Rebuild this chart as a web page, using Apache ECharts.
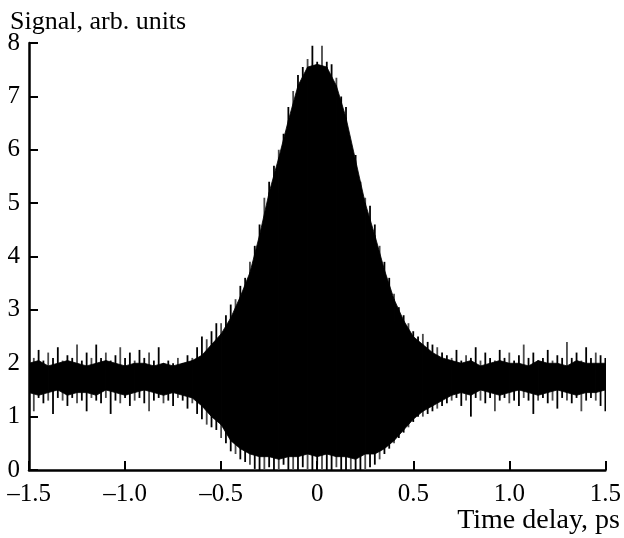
<!DOCTYPE html>
<html><head><meta charset="utf-8">
<script src="https://cdn.jsdelivr.net/npm/echarts@6/dist/echarts.min.js"></script>
<style>html,body{margin:0;padding:0;background:#fff}#c{width:624px;height:538px}</style>
</head><body><div id="c"></div>
<script>
// fine sampling grid of the time delay (ps) for the signal extremes
const delayStart = -1.5;
const delayStep = 0.025;
// maximum of the signal at each fine sample
const upper = [
  2.15,2.1,2.25,2.05,2.2,2.1,2.3,2.05,2.15,2.1,
  2.35,2.05,2.2,2.1,2.35,2.1,2.2,2.05,2.15,2.3,
  2.1,2.2,2.05,2.25,2.1,2.2,2.05,2.3,2.0,2.05,
  2.0,2.1,2.0,2.15,2.1,
  2.3,2.5,2.45,2.6,2.75,2.75,2.9,3.1,3.2,3.45,
  3.6,3.9,4.2,4.6,5.1,5.4,5.7,6.0,6.3,6.8,
  7.1,7.4,7.55,7.7,7.95,7.65,7.95,7.65,7.6,7.35,
  7.0,6.8,6.1,5.9,5.4,5.1,4.95,4.6,4.2,3.9,
  3.6,3.3,3.05,2.9,2.75,2.6,2.5,2.55,2.4,2.35,
  2.3,2.2,2.15,
  2.1,2.25,2.05,2.15,2.1,2.3,2.05,2.2,2.1,2.05,
  2.25,2.1,2.2,2.05,2.15,2.35,2.1,2.2,2.05,2.1,
  2.25,2.05,2.15,2.1,2.4,2.1,2.2,2.05,2.3,2.1,
  2.2,2.15,2.1
];
// minimum of the signal at each fine sample
const lower = [
  1.3,1.1,1.35,1.25,1.3,1.05,1.35,1.3,1.2,1.35,
  1.25,1.3,1.1,1.35,1.3,1.25,1.35,1.05,1.3,1.25,
  1.35,1.2,1.3,1.35,1.25,1.1,1.3,1.35,1.25,1.3,
  1.2,1.35,1.3,1.15,1.25,
  1.05,0.95,0.85,0.8,0.75,0.6,0.5,0.35,0.3,0.2,
  0.15,0.1,0.02,
  0,0,0.05,0,0,0.1,0,0,0,0.05,
  0,0,0.1,0,0,0,0.05,0,0,0,
  0,0,0,
  0.05,0.1,0.2,0.3,0.4,0.5,0.6,0.7,0.8,0.9,
  1.0,1.0,1.05,1.1,1.15,1.2,1.25,
  1.3,1.35,1.2,1.3,1.0,1.35,1.3,1.25,1.35,1.1,
  1.3,1.35,1.25,1.3,1.2,1.35,1.3,1.05,1.3,1.35,
  1.25,1.3,1.15,1.35,1.3,1.25,1.35,1.1,1.3,1.35,
  1.3,1.2,1.1
];
// coarse grid for the dense (solid) part of the trace
const coreStep = 0.05;
const coreUpper = [
  2.0,2.05,1.95,2.0,2.05,2.0,1.95,2.0,2.05,2.0,1.95,2.0,2.0,1.95,2.0,1.95,2.0,
  2.05,2.15,2.35,2.55,2.85,3.25,3.7,4.4,5.2,5.85,6.55,7.2,7.55,7.6,
  7.55,7.2,6.6,5.8,5.0,4.4,3.75,3.2,2.8,2.5,2.35,2.2,2.1,2.05,
  2.0,2.05,1.95,2.0,2.05,2.0,2.0,1.95,2.05,2.0,2.0,1.95,2.05,2.0,2.0,2.0
];
const coreLower = [
  1.45,1.4,1.45,1.5,1.4,1.45,1.45,1.4,1.5,1.45,1.4,1.45,1.5,1.45,1.4,1.45,1.4,
  1.35,1.2,1.0,0.85,0.55,0.4,0.3,0.25,0.25,0.2,0.25,0.25,0.3,0.25,
  0.3,0.25,0.25,0.2,0.3,0.3,0.4,0.55,0.75,0.95,1.1,1.2,1.3,1.4,
  1.45,1.4,1.5,1.45,1.4,1.45,1.5,1.45,1.4,1.45,1.5,1.45,1.4,1.45,1.45,1.5
];
const xTicks = [-1.5,-1.0,-0.5,0,0.5,1.0,1.5];
const xTickLabels = ['\u20131.5','\u20131.0','\u20130.5','0','0.5','1.0','1.5'];
const yTickLabels = ['0','1','2','3','4','5','6','7','8'];
const xTitle = 'Time delay, ps';
const yTitle = 'Signal, arb. units';

const spikeData = upper.map((u, i) => [delayStart + delayStep * i, lower[i], u]);
// one quadrilateral between consecutive coarse samples
const coreData = [];
for (let i = 0; i < coreUpper.length - 1; i++) {
  coreData.push([delayStart + coreStep * i, coreLower[i], coreUpper[i],
                 delayStart + coreStep * (i + 1), coreLower[i + 1], coreUpper[i + 1]]);
}
const FONT = 'Liberation Serif';

const chart = echarts.init(document.getElementById('c'), null, {renderer: 'canvas'});
chart.setOption({
  animation: false,
  backgroundColor: '#fff',
  grid: {left: 29, right: 16, top: 43, bottom: 68},
  xAxis: {
    type: 'value', min: -1.5, max: 1.5, interval: 0.5,
    axisLine: {show: true, onZero: false, lineStyle: {color: '#000', width: 2.5}},
    axisTick: {show: true, inside: true, length: 9, lineStyle: {color: '#000', width: 2}},
    axisLabel: {
      formatter: v => { const k = xTicks.findIndex(x => Math.abs(x - v) < 1e-6); return k >= 0 ? xTickLabels[k] : ''; },
      fontFamily: FONT, fontSize: 25, color: '#000', margin: 12
    },
    splitLine: {show: false}
  },
  yAxis: {
    type: 'value', min: 0, max: 8, interval: 1,
    axisLine: {show: true, onZero: false, lineStyle: {color: '#000', width: 2.5}},
    axisTick: {show: true, inside: true, length: 9, lineStyle: {color: '#000', width: 2}},
    axisLabel: {
      formatter: v => yTickLabels[Math.round(v)] || '',
      fontFamily: FONT, fontSize: 25, color: '#000', margin: 9
    },
    splitLine: {show: false}
  },
  series: [
    {
      type: 'custom', clip: true, z: 3, silent: true,
      encode: {x: [0, 3], y: [1, 2, 4, 5]},
      renderItem: (params, api) => {
        const p1 = api.coord([api.value(0), api.value(1)]);
        const p2 = api.coord([api.value(0), api.value(2)]);
        const p3 = api.coord([api.value(3), api.value(5)]);
        const p4 = api.coord([api.value(3), api.value(4)]);
        return {type: 'polygon', shape: {points: [p1, p2, p3, p4]},
                style: {fill: '#000', stroke: '#000', lineWidth: 0.8}};
      },
      data: coreData
    },
    {
      type: 'custom', clip: true, z: 2, silent: true,
      encode: {x: 0, y: [1, 2]},
      renderItem: (params, api) => {
        const t = api.value(0);
        const a = api.coord([t, api.value(2)]);
        const b = api.coord([t, api.value(1)]);
        return {type: 'line', shape: {x1: a[0], y1: a[1], x2: b[0], y2: b[1]},
                style: {stroke: params.dataIndex % 3 === 1 ? '#4a4a4a' : '#000', lineWidth: 1.8}};
      },
      data: spikeData
    }
  ],
  graphic: [
    {type: 'text', left: 10, top: 9, style: {text: yTitle, font: '26px "Liberation Serif"', fill: '#000'}},
    {type: 'text', right: 4, top: 507, style: {text: xTitle, font: '28px "Liberation Serif"', fill: '#000'}}
  ]
});
</script></body></html>
